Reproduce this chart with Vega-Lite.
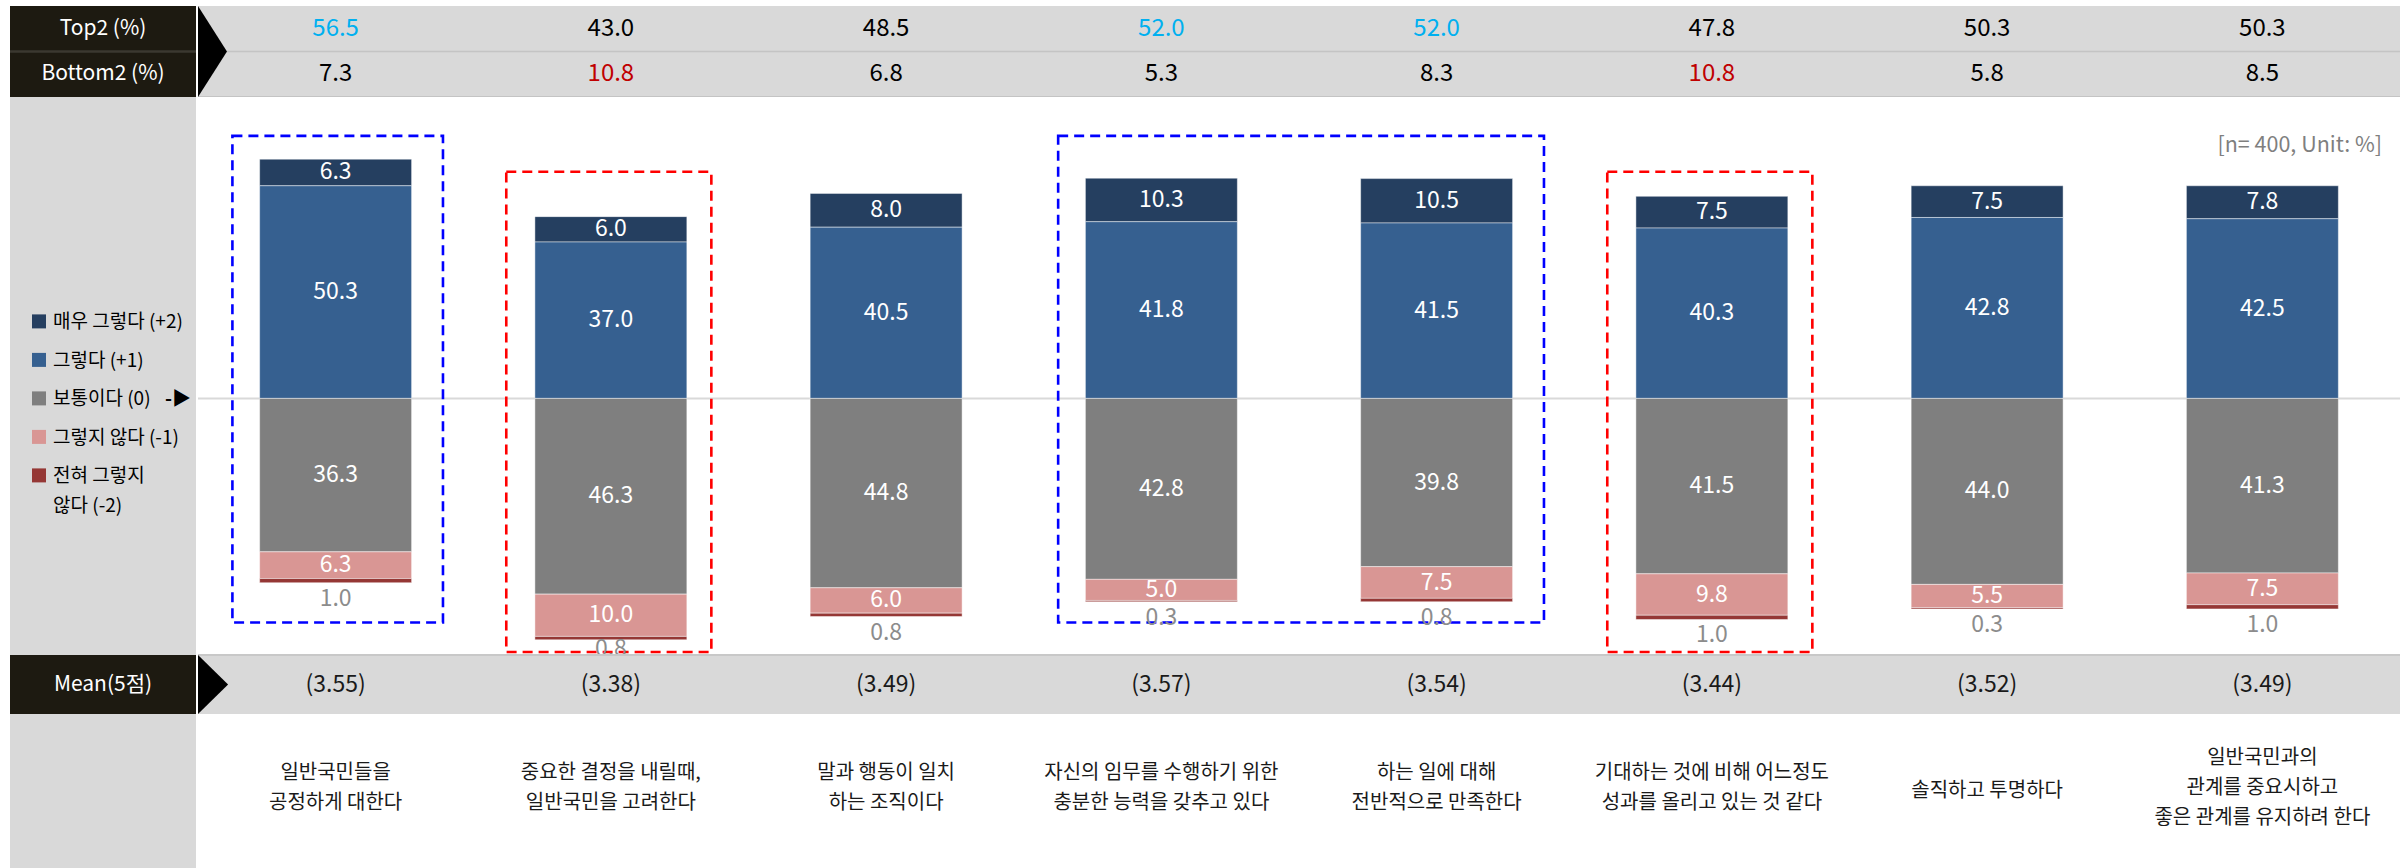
{
  "$schema": "https://vega.github.io/schema/vega-lite/v6.json",
  "background": "white",
  "padding": {"left": 9, "top": 6, "right": 10, "bottom": 0},
  "spacing": 0,
  "config": {"view": {"stroke": null}, "font": "Noto Sans CJK KR", "concat": {"spacing": 0}},
  "datasets": {
    "bars": [
      {"item": "일반국민들을\n공정하게 대한다", "resp": "매우 그렇다 (+2)", "code": 2, "pct": 6.3},
      {"item": "일반국민들을\n공정하게 대한다", "resp": "그렇다 (+1)", "code": 1, "pct": 50.3},
      {"item": "일반국민들을\n공정하게 대한다", "resp": "보통이다 (0)", "code": 0, "pct": 36.3},
      {"item": "일반국민들을\n공정하게 대한다", "resp": "그렇지 않다 (-1)", "code": -1, "pct": 6.3},
      {"item": "일반국민들을\n공정하게 대한다", "resp": "전혀 그렇지 않다 (-2)", "code": -2, "pct": 1.0},
      {"item": "중요한 결정을 내릴때,\n일반국민을 고려한다", "resp": "매우 그렇다 (+2)", "code": 2, "pct": 6.0},
      {"item": "중요한 결정을 내릴때,\n일반국민을 고려한다", "resp": "그렇다 (+1)", "code": 1, "pct": 37.0},
      {"item": "중요한 결정을 내릴때,\n일반국민을 고려한다", "resp": "보통이다 (0)", "code": 0, "pct": 46.3},
      {"item": "중요한 결정을 내릴때,\n일반국민을 고려한다", "resp": "그렇지 않다 (-1)", "code": -1, "pct": 10.0},
      {"item": "중요한 결정을 내릴때,\n일반국민을 고려한다", "resp": "전혀 그렇지 않다 (-2)", "code": -2, "pct": 0.8},
      {"item": "말과 행동이 일치\n하는 조직이다", "resp": "매우 그렇다 (+2)", "code": 2, "pct": 8.0},
      {"item": "말과 행동이 일치\n하는 조직이다", "resp": "그렇다 (+1)", "code": 1, "pct": 40.5},
      {"item": "말과 행동이 일치\n하는 조직이다", "resp": "보통이다 (0)", "code": 0, "pct": 44.8},
      {"item": "말과 행동이 일치\n하는 조직이다", "resp": "그렇지 않다 (-1)", "code": -1, "pct": 6.0},
      {"item": "말과 행동이 일치\n하는 조직이다", "resp": "전혀 그렇지 않다 (-2)", "code": -2, "pct": 0.8},
      {"item": "자신의 임무를 수행하기 위한\n충분한 능력을 갖추고 있다", "resp": "매우 그렇다 (+2)", "code": 2, "pct": 10.3},
      {"item": "자신의 임무를 수행하기 위한\n충분한 능력을 갖추고 있다", "resp": "그렇다 (+1)", "code": 1, "pct": 41.8},
      {"item": "자신의 임무를 수행하기 위한\n충분한 능력을 갖추고 있다", "resp": "보통이다 (0)", "code": 0, "pct": 42.8},
      {"item": "자신의 임무를 수행하기 위한\n충분한 능력을 갖추고 있다", "resp": "그렇지 않다 (-1)", "code": -1, "pct": 5.0},
      {"item": "자신의 임무를 수행하기 위한\n충분한 능력을 갖추고 있다", "resp": "전혀 그렇지 않다 (-2)", "code": -2, "pct": 0.3},
      {"item": "하는 일에 대해\n전반적으로 만족한다", "resp": "매우 그렇다 (+2)", "code": 2, "pct": 10.5},
      {"item": "하는 일에 대해\n전반적으로 만족한다", "resp": "그렇다 (+1)", "code": 1, "pct": 41.5},
      {"item": "하는 일에 대해\n전반적으로 만족한다", "resp": "보통이다 (0)", "code": 0, "pct": 39.8},
      {"item": "하는 일에 대해\n전반적으로 만족한다", "resp": "그렇지 않다 (-1)", "code": -1, "pct": 7.5},
      {"item": "하는 일에 대해\n전반적으로 만족한다", "resp": "전혀 그렇지 않다 (-2)", "code": -2, "pct": 0.8},
      {"item": "기대하는 것에 비해 어느정도\n성과를 올리고 있는 것 같다", "resp": "매우 그렇다 (+2)", "code": 2, "pct": 7.5},
      {"item": "기대하는 것에 비해 어느정도\n성과를 올리고 있는 것 같다", "resp": "그렇다 (+1)", "code": 1, "pct": 40.3},
      {"item": "기대하는 것에 비해 어느정도\n성과를 올리고 있는 것 같다", "resp": "보통이다 (0)", "code": 0, "pct": 41.5},
      {"item": "기대하는 것에 비해 어느정도\n성과를 올리고 있는 것 같다", "resp": "그렇지 않다 (-1)", "code": -1, "pct": 9.8},
      {"item": "기대하는 것에 비해 어느정도\n성과를 올리고 있는 것 같다", "resp": "전혀 그렇지 않다 (-2)", "code": -2, "pct": 1.0},
      {"item": "솔직하고 투명하다", "resp": "매우 그렇다 (+2)", "code": 2, "pct": 7.5},
      {"item": "솔직하고 투명하다", "resp": "그렇다 (+1)", "code": 1, "pct": 42.8},
      {"item": "솔직하고 투명하다", "resp": "보통이다 (0)", "code": 0, "pct": 44.0},
      {"item": "솔직하고 투명하다", "resp": "그렇지 않다 (-1)", "code": -1, "pct": 5.5},
      {"item": "솔직하고 투명하다", "resp": "전혀 그렇지 않다 (-2)", "code": -2, "pct": 0.3},
      {"item": "일반국민과의\n관계를 중요시하고\n좋은 관계를 유지하려 한다", "resp": "매우 그렇다 (+2)", "code": 2, "pct": 7.8},
      {"item": "일반국민과의\n관계를 중요시하고\n좋은 관계를 유지하려 한다", "resp": "그렇다 (+1)", "code": 1, "pct": 42.5},
      {"item": "일반국민과의\n관계를 중요시하고\n좋은 관계를 유지하려 한다", "resp": "보통이다 (0)", "code": 0, "pct": 41.3},
      {"item": "일반국민과의\n관계를 중요시하고\n좋은 관계를 유지하려 한다", "resp": "그렇지 않다 (-1)", "code": -1, "pct": 7.5},
      {"item": "일반국민과의\n관계를 중요시하고\n좋은 관계를 유지하려 한다", "resp": "전혀 그렇지 않다 (-2)", "code": -2, "pct": 1.0}
    ],
    "header": [
      {"item": "일반국민들을\n공정하게 대한다", "row": "Top2 (%)", "value": 56.5},
      {"item": "중요한 결정을 내릴때,\n일반국민을 고려한다", "row": "Top2 (%)", "value": 43.0},
      {"item": "말과 행동이 일치\n하는 조직이다", "row": "Top2 (%)", "value": 48.5},
      {"item": "자신의 임무를 수행하기 위한\n충분한 능력을 갖추고 있다", "row": "Top2 (%)", "value": 52.0},
      {"item": "하는 일에 대해\n전반적으로 만족한다", "row": "Top2 (%)", "value": 52.0},
      {"item": "기대하는 것에 비해 어느정도\n성과를 올리고 있는 것 같다", "row": "Top2 (%)", "value": 47.8},
      {"item": "솔직하고 투명하다", "row": "Top2 (%)", "value": 50.3},
      {"item": "일반국민과의\n관계를 중요시하고\n좋은 관계를 유지하려 한다", "row": "Top2 (%)", "value": 50.3},
      {"item": "일반국민들을\n공정하게 대한다", "row": "Bottom2 (%)", "value": 7.3},
      {"item": "중요한 결정을 내릴때,\n일반국민을 고려한다", "row": "Bottom2 (%)", "value": 10.8},
      {"item": "말과 행동이 일치\n하는 조직이다", "row": "Bottom2 (%)", "value": 6.8},
      {"item": "자신의 임무를 수행하기 위한\n충분한 능력을 갖추고 있다", "row": "Bottom2 (%)", "value": 5.3},
      {"item": "하는 일에 대해\n전반적으로 만족한다", "row": "Bottom2 (%)", "value": 8.3},
      {"item": "기대하는 것에 비해 어느정도\n성과를 올리고 있는 것 같다", "row": "Bottom2 (%)", "value": 10.8},
      {"item": "솔직하고 투명하다", "row": "Bottom2 (%)", "value": 5.8},
      {"item": "일반국민과의\n관계를 중요시하고\n좋은 관계를 유지하려 한다", "row": "Bottom2 (%)", "value": 8.5}
    ],
    "means": [
      {"item": "일반국민들을\n공정하게 대한다", "mean": 3.55},
      {"item": "중요한 결정을 내릴때,\n일반국민을 고려한다", "mean": 3.38},
      {"item": "말과 행동이 일치\n하는 조직이다", "mean": 3.49},
      {"item": "자신의 임무를 수행하기 위한\n충분한 능력을 갖추고 있다", "mean": 3.57},
      {"item": "하는 일에 대해\n전반적으로 만족한다", "mean": 3.54},
      {"item": "기대하는 것에 비해 어느정도\n성과를 올리고 있는 것 같다", "mean": 3.44},
      {"item": "솔직하고 투명하다", "mean": 3.52},
      {"item": "일반국민과의\n관계를 중요시하고\n좋은 관계를 유지하려 한다", "mean": 3.49}
    ],
    "legend": [
      {"resp": "매우 그렇다 (+2)", "code": 2, "label": "매우 그렇다 (+2)"},
      {"resp": "그렇다 (+1)", "code": 1, "label": "그렇다 (+1)"},
      {"resp": "보통이다 (0)", "code": 0, "label": "보통이다 (0)"},
      {"resp": "그렇지 않다 (-1)", "code": -1, "label": "그렇지 않다 (-1)"},
      {"resp": "전혀 그렇지 않다 (-2)", "code": -2, "label": "전혀 그렇지\n않다 (-2)"}
    ],
    "boxes": [
      {"from": "일반국민들을\n공정하게 대한다", "to": "일반국민들을\n공정하게 대한다", "kind": "top"},
      {"from": "자신의 임무를 수행하기 위한\n충분한 능력을 갖추고 있다", "to": "하는 일에 대해\n전반적으로 만족한다", "kind": "top"},
      {"from": "중요한 결정을 내릴때,\n일반국민을 고려한다", "to": "중요한 결정을 내릴때,\n일반국민을 고려한다", "kind": "bottom"},
      {"from": "기대하는 것에 비해 어느정도\n성과를 올리고 있는 것 같다", "to": "기대하는 것에 비해 어느정도\n성과를 올리고 있는 것 같다", "kind": "bottom"}
    ]
  },
  "hconcat": [
    {
      "spacing": 0,
      "bounds": "flush",
      "vconcat": [
        {
          "width": 186, "height": 91,
          "view": {"fill": "#1d1a11", "stroke": null},
          "data": {"values": [{"row": "Top2 (%)"}, {"row": "Bottom2 (%)"}]},
          "layer": [
            {"mark": {"type": "rule", "color": "#3b3830", "strokeWidth": 2},
             "encoding": {"y": {"datum": "Bottom2 (%)", "type": "nominal", "bandPosition": 0, "scale": {"type": "band", "domain": ["Top2 (%)", "Bottom2 (%)"], "paddingInner": 0, "paddingOuter": 0}, "axis": null}}},
            {"mark": {"type": "text", "color": "white", "fontSize": 21, "baseline": "middle"},
             "encoding": {"y": {"field": "row", "type": "nominal", "scale": {"type": "band", "domain": ["Top2 (%)", "Bottom2 (%)"], "paddingInner": 0, "paddingOuter": 0}, "axis": null}, "text": {"field": "row"}}}
          ]
        },
        {
          "width": 186, "height": 558,
          "view": {"fill": "#d9d9d9", "stroke": null},
          "data": {"name": "legend"},
          "layer": [
            {"mark": {"type": "point", "shape": "square", "size": 196, "filled": true, "opacity": 1, "strokeWidth": 0},
             "encoding": {
               "x": {"datum": "swatch", "type": "nominal", "scale": {"type": "point", "domain": ["swatch", "label"], "range": [29, 43], "padding": 0}, "axis": null},
               "y": {"field": "resp", "type": "nominal", "scale": {"type": "point", "domain": ["매우 그렇다 (+2)", "그렇다 (+1)", "보통이다 (0)", "그렇지 않다 (-1)", "전혀 그렇지 않다 (-2)"], "range": [224.4, 378.4], "padding": 0}, "axis": null},
               "color": {"field": "resp", "type": "nominal", "scale": {"domain": ["매우 그렇다 (+2)", "그렇다 (+1)", "보통이다 (0)", "그렇지 않다 (-1)", "전혀 그렇지 않다 (-2)"], "range": ["#253f60", "#366090", "#7f7f7f", "#d99694", "#953735"]}, "legend": null}
             }},
            {"mark": {"type": "text", "align": "left", "baseline": "top", "dy": -8, "fontSize": 19, "lineBreak": "\n", "lineHeight": 30, "color": "#000000"},
             "encoding": {
               "x": {"datum": "label", "type": "nominal", "scale": {"type": "point", "domain": ["swatch", "label"], "range": [29, 43], "padding": 0}, "axis": null},
               "y": {"field": "resp", "type": "nominal", "scale": {"type": "point", "domain": ["매우 그렇다 (+2)", "그렇다 (+1)", "보통이다 (0)", "그렇지 않다 (-1)", "전혀 그렇지 않다 (-2)"], "range": [224.4, 378.4], "padding": 0}, "axis": null},
               "text": {"field": "label"}
             }},
            {"transform": [{"filter": "datum.code === 0"}],
             "mark": {"type": "text", "align": "left", "baseline": "top", "dy": -8, "dx": 112, "fontSize": 19, "fontWeight": "bold", "color": "#000000", "text": "-▶"},
             "encoding": {
               "x": {"datum": "label", "type": "nominal", "scale": {"type": "point", "domain": ["swatch", "label"], "range": [29, 43], "padding": 0}, "axis": null},
               "y": {"field": "resp", "type": "nominal", "scale": {"type": "point", "domain": ["매우 그렇다 (+2)", "그렇다 (+1)", "보통이다 (0)", "그렇지 않다 (-1)", "전혀 그렇지 않다 (-2)"], "range": [224.4, 378.4], "padding": 0}, "axis": null}
             }}
          ]
        },
        {
          "width": 186, "height": 59,
          "view": {"fill": "#1d1a11", "stroke": null},
          "data": {"values": [{"t": "Mean(5점)"}]},
          "mark": {"type": "text", "color": "#ffffff", "fontSize": 21, "baseline": "middle"},
          "encoding": {"text": {"field": "t"}}
        },
        {
          "width": 186, "height": 154,
          "view": {"fill": "#d9d9d9", "stroke": null},
          "data": {"values": [{}]},
          "mark": {"type": "text", "text": ""}
        }
      ]
    },
    {
      "spacing": 0,
      "bounds": "flush",
      "vconcat": [
        {
          "width": 2202, "height": 91,
          "view": {"fill": "#d9d9d9", "stroke": null},
          "layer": [
            {"data": {"values": [{}]},
             "mark": {"type": "rule", "color": "#c4c4c4", "strokeWidth": 1.5},
             "encoding": {"y": {"datum": "Bottom2 (%)", "type": "nominal", "bandPosition": 0, "scale": {"type": "band", "domain": ["Top2 (%)", "Bottom2 (%)"], "paddingInner": 0, "paddingOuter": 0}, "axis": null}}},
            {"data": {"values": [{}]},
             "mark": {"type": "rule", "color": "#c4c4c4", "strokeWidth": 2},
             "encoding": {"y": {"datum": "Bottom2 (%)", "type": "nominal", "bandPosition": 1, "scale": {"type": "band", "domain": ["Top2 (%)", "Bottom2 (%)"], "paddingInner": 0, "paddingOuter": 0}, "axis": null}}},
            {"data": {"name": "header"},
             "mark": {"type": "text", "fontSize": 24, "baseline": "middle"},
             "encoding": {
               "x": {"field": "item", "type": "nominal", "scale": {"type": "band", "domain": ["일반국민들을\n공정하게 대한다", "중요한 결정을 내릴때,\n일반국민을 고려한다", "말과 행동이 일치\n하는 조직이다", "자신의 임무를 수행하기 위한\n충분한 능력을 갖추고 있다", "하는 일에 대해\n전반적으로 만족한다", "기대하는 것에 비해 어느정도\n성과를 올리고 있는 것 같다", "솔직하고 투명하다", "일반국민과의\n관계를 중요시하고\n좋은 관계를 유지하려 한다"], "paddingInner": 0, "paddingOuter": 0}, "axis": null},
               "y": {"field": "row", "type": "nominal", "scale": {"type": "band", "domain": ["Top2 (%)", "Bottom2 (%)"], "paddingInner": 0, "paddingOuter": 0}, "axis": null},
               "text": {"field": "value", "type": "quantitative", "format": ".1f"},
               "color": {"condition": [
                 {"test": "datum.row === 'Top2 (%)' && datum.value >= 52", "value": "#00b0f0"},
                 {"test": "datum.row === 'Bottom2 (%)' && datum.value >= 10.8", "value": "#c00000"}
               ], "value": "#000000"}
             }},
            {"data": {"values": [{}]},
             "mark": {"type": "point", "shape": "M 0 -1 L 0.637 0 L 0 1 Z", "size": 8281, "filled": true, "color": "#000000", "opacity": 1, "strokeWidth": 0},
             "encoding": {"x": {"datum": "일반국민들을\n공정하게 대한다", "type": "nominal", "bandPosition": 0, "scale": {"type": "band", "domain": ["일반국민들을\n공정하게 대한다", "중요한 결정을 내릴때,\n일반국민을 고려한다", "말과 행동이 일치\n하는 조직이다", "자신의 임무를 수행하기 위한\n충분한 능력을 갖추고 있다", "하는 일에 대해\n전반적으로 만족한다", "기대하는 것에 비해 어느정도\n성과를 올리고 있는 것 같다", "솔직하고 투명하다", "일반국민과의\n관계를 중요시하고\n좋은 관계를 유지하려 한다"], "paddingInner": 0, "paddingOuter": 0}, "axis": null}}}
          ]
        },
        {
          "width": 2202, "height": 558,
          "view": {"fill": "white", "stroke": null},
          "resolve": {"scale": {"y": "independent"}},
          "layer": [
            {
              "layer": [
                {"data": {"values": [{}]},
                 "mark": {"type": "rule", "color": "#d9d9d9", "strokeWidth": 2},
                 "encoding": {"y": {"datum": 0, "type": "quantitative", "scale": {"domain": [-60.7, 71.3]}, "axis": null}}},
                {"data": {"name": "bars"},
                 "transform": [{"filter": "datum.code > 0"}],
                 "mark": {"type": "bar", "width": {"band": 0.552}, "stroke": "#ffffff", "strokeWidth": 1, "strokeOpacity": 0.45},
                 "encoding": {
                   "x": {"field": "item", "type": "nominal", "scale": {"type": "band", "domain": ["일반국민들을\n공정하게 대한다", "중요한 결정을 내릴때,\n일반국민을 고려한다", "말과 행동이 일치\n하는 조직이다", "자신의 임무를 수행하기 위한\n충분한 능력을 갖추고 있다", "하는 일에 대해\n전반적으로 만족한다", "기대하는 것에 비해 어느정도\n성과를 올리고 있는 것 같다", "솔직하고 투명하다", "일반국민과의\n관계를 중요시하고\n좋은 관계를 유지하려 한다"], "paddingInner": 0, "paddingOuter": 0}, "axis": null},
                   "y": {"field": "pct", "type": "quantitative", "stack": "zero", "scale": {"domain": [-60.7, 71.3]}, "axis": null},
                   "color": {"field": "resp", "type": "nominal", "scale": {"domain": ["매우 그렇다 (+2)", "그렇다 (+1)", "보통이다 (0)", "그렇지 않다 (-1)", "전혀 그렇지 않다 (-2)"], "range": ["#253f60", "#366090", "#7f7f7f", "#d99694", "#953735"]}, "legend": null},
                   "order": {"field": "code", "type": "quantitative", "sort": "ascending"}
                 }},
                {"data": {"name": "bars"},
                 "transform": [{"filter": "datum.code > 0"}],
                 "mark": {"type": "text", "color": "#ffffff", "fontSize": 23, "baseline": "middle"},
                 "encoding": {
                   "x": {"field": "item", "type": "nominal", "scale": {"type": "band", "domain": ["일반국민들을\n공정하게 대한다", "중요한 결정을 내릴때,\n일반국민을 고려한다", "말과 행동이 일치\n하는 조직이다", "자신의 임무를 수행하기 위한\n충분한 능력을 갖추고 있다", "하는 일에 대해\n전반적으로 만족한다", "기대하는 것에 비해 어느정도\n성과를 올리고 있는 것 같다", "솔직하고 투명하다", "일반국민과의\n관계를 중요시하고\n좋은 관계를 유지하려 한다"], "paddingInner": 0, "paddingOuter": 0}, "axis": null},
                   "y": {"field": "pct", "type": "quantitative", "stack": "zero", "bandPosition": 0.5, "scale": {"domain": [-60.7, 71.3]}, "axis": null},
                   "detail": {"field": "resp"},
                   "order": {"field": "code", "type": "quantitative", "sort": "ascending"},
                   "text": {"field": "pct", "type": "quantitative", "format": ".1f"}
                 }},
                {"data": {"name": "boxes"},
                 "transform": [{"filter": "datum.kind === 'top'"}],
                 "mark": {"type": "rect", "filled": false, "strokeWidth": 2.6, "strokeDash": [10, 6]},
                 "encoding": {
                   "x": {"field": "from", "type": "nominal", "bandPosition": 0.125, "scale": {"type": "band", "domain": ["일반국민들을\n공정하게 대한다", "중요한 결정을 내릴때,\n일반국민을 고려한다", "말과 행동이 일치\n하는 조직이다", "자신의 임무를 수행하기 위한\n충분한 능력을 갖추고 있다", "하는 일에 대해\n전반적으로 만족한다", "기대하는 것에 비해 어느정도\n성과를 올리고 있는 것 같다", "솔직하고 투명하다", "일반국민과의\n관계를 중요시하고\n좋은 관계를 유지하려 한다"], "paddingInner": 0, "paddingOuter": 0}, "axis": null},
                   "x2": {"field": "to", "bandPosition": 0.89},
                   "y": {"datum": 62.1, "type": "quantitative", "scale": {"domain": [-60.7, 71.3]}, "axis": null},
                   "y2": {"datum": -53},
                   "stroke": {"field": "kind", "type": "nominal", "scale": {"domain": ["top", "bottom"], "range": ["#0000ff", "#ff0000"]}, "legend": null}
                 }},
                {"data": {"name": "boxes"},
                 "transform": [{"filter": "datum.kind === 'bottom'"}],
                 "mark": {"type": "rect", "filled": false, "strokeWidth": 2.6, "strokeDash": [10, 6]},
                 "encoding": {
                   "x": {"field": "from", "type": "nominal", "bandPosition": 0.12, "scale": {"type": "band", "domain": ["일반국민들을\n공정하게 대한다", "중요한 결정을 내릴때,\n일반국민을 고려한다", "말과 행동이 일치\n하는 조직이다", "자신의 임무를 수행하기 위한\n충분한 능력을 갖추고 있다", "하는 일에 대해\n전반적으로 만족한다", "기대하는 것에 비해 어느정도\n성과를 올리고 있는 것 같다", "솔직하고 투명하다", "일반국민과의\n관계를 중요시하고\n좋은 관계를 유지하려 한다"], "paddingInner": 0, "paddingOuter": 0}, "axis": null},
                   "x2": {"field": "to", "bandPosition": 0.865},
                   "y": {"datum": 53.6, "type": "quantitative", "scale": {"domain": [-60.7, 71.3]}, "axis": null},
                   "y2": {"datum": -60},
                   "stroke": {"field": "kind", "type": "nominal", "scale": {"domain": ["top", "bottom"], "range": ["#0000ff", "#ff0000"]}, "legend": null}
                 }},
                {"data": {"values": [{"note": "[n= 400, Unit: %]"}]},
                 "mark": {"type": "text", "align": "right", "baseline": "middle", "fontSize": 21.5, "color": "#7f7f7f", "dx": -18},
                 "encoding": {
                   "x": {"datum": "일반국민과의\n관계를 중요시하고\n좋은 관계를 유지하려 한다", "type": "nominal", "bandPosition": 1, "scale": {"type": "band", "domain": ["일반국민들을\n공정하게 대한다", "중요한 결정을 내릴때,\n일반국민을 고려한다", "말과 행동이 일치\n하는 조직이다", "자신의 임무를 수행하기 위한\n충분한 능력을 갖추고 있다", "하는 일에 대해\n전반적으로 만족한다", "기대하는 것에 비해 어느정도\n성과를 올리고 있는 것 같다", "솔직하고 투명하다", "일반국민과의\n관계를 중요시하고\n좋은 관계를 유지하려 한다"], "paddingInner": 0, "paddingOuter": 0}, "axis": null},
                   "y": {"datum": 59.7, "type": "quantitative", "scale": {"domain": [-60.7, 71.3]}, "axis": null},
                   "text": {"field": "note"}
                 }}
              ]
            },
            {
              "layer": [
                {"data": {"name": "bars"},
                 "transform": [{"filter": "datum.code <= 0"}],
                 "mark": {"type": "bar", "width": {"band": 0.552}, "stroke": "#ffffff", "strokeWidth": 1, "strokeOpacity": 0.45},
                 "encoding": {
                   "x": {"field": "item", "type": "nominal", "scale": {"type": "band", "domain": ["일반국민들을\n공정하게 대한다", "중요한 결정을 내릴때,\n일반국민을 고려한다", "말과 행동이 일치\n하는 조직이다", "자신의 임무를 수행하기 위한\n충분한 능력을 갖추고 있다", "하는 일에 대해\n전반적으로 만족한다", "기대하는 것에 비해 어느정도\n성과를 올리고 있는 것 같다", "솔직하고 투명하다", "일반국민과의\n관계를 중요시하고\n좋은 관계를 유지하려 한다"], "paddingInner": 0, "paddingOuter": 0}, "axis": null},
                   "y": {"field": "pct", "type": "quantitative", "stack": "zero", "scale": {"domain": [-71.3, 60.7], "reverse": true}, "axis": null},
                   "color": {"field": "resp", "type": "nominal", "scale": {"domain": ["매우 그렇다 (+2)", "그렇다 (+1)", "보통이다 (0)", "그렇지 않다 (-1)", "전혀 그렇지 않다 (-2)"], "range": ["#253f60", "#366090", "#7f7f7f", "#d99694", "#953735"]}, "legend": null},
                   "order": {"field": "code", "type": "quantitative", "sort": "descending"}
                 }},
                {"data": {"name": "bars"},
                 "transform": [{"filter": "datum.code <= 0 && datum.code >= -1"}],
                 "mark": {"type": "text", "color": "#ffffff", "fontSize": 23, "baseline": "middle"},
                 "encoding": {
                   "x": {"field": "item", "type": "nominal", "scale": {"type": "band", "domain": ["일반국민들을\n공정하게 대한다", "중요한 결정을 내릴때,\n일반국민을 고려한다", "말과 행동이 일치\n하는 조직이다", "자신의 임무를 수행하기 위한\n충분한 능력을 갖추고 있다", "하는 일에 대해\n전반적으로 만족한다", "기대하는 것에 비해 어느정도\n성과를 올리고 있는 것 같다", "솔직하고 투명하다", "일반국민과의\n관계를 중요시하고\n좋은 관계를 유지하려 한다"], "paddingInner": 0, "paddingOuter": 0}, "axis": null},
                   "y": {"field": "pct", "type": "quantitative", "stack": "zero", "bandPosition": 0.5, "scale": {"domain": [-71.3, 60.7], "reverse": true}, "axis": null},
                   "detail": {"field": "resp"},
                   "order": {"field": "code", "type": "quantitative", "sort": "descending"},
                   "text": {"field": "pct", "type": "quantitative", "format": ".1f"}
                 }}
              ]
            },
            {"data": {"name": "bars"},
             "transform": [{"filter": "datum.code <= 0"}],
             "mark": {"type": "text", "color": "#8c8c8c", "fontSize": 23, "baseline": "middle", "dy": 16},
             "encoding": {
               "x": {"field": "item", "type": "nominal", "scale": {"type": "band", "domain": ["일반국민들을\n공정하게 대한다", "중요한 결정을 내릴때,\n일반국민을 고려한다", "말과 행동이 일치\n하는 조직이다", "자신의 임무를 수행하기 위한\n충분한 능력을 갖추고 있다", "하는 일에 대해\n전반적으로 만족한다", "기대하는 것에 비해 어느정도\n성과를 올리고 있는 것 같다", "솔직하고 투명하다", "일반국민과의\n관계를 중요시하고\n좋은 관계를 유지하려 한다"], "paddingInner": 0, "paddingOuter": 0}, "axis": null},
               "y": {"field": "pct", "type": "quantitative", "stack": "zero", "scale": {"domain": [-71.3, 55.5], "range": [0, 536], "clamp": true}, "axis": null},
               "detail": {"field": "resp"},
               "order": {"field": "code", "type": "quantitative", "sort": "descending"},
               "text": {"condition": {"test": "datum.code === -2", "field": "pct", "type": "quantitative", "format": ".1f"}, "value": ""}
             }}
          ]
        },
        {
          "width": 2202, "height": 59,
          "view": {"fill": "#d9d9d9", "stroke": null},
          "layer": [
            {"data": {"values": [{}]},
             "mark": {"type": "rule", "color": "#c8c8c8", "strokeWidth": 2},
             "encoding": {"y": {"datum": 0, "type": "quantitative", "scale": {"domain": [0, 1], "reverse": true}, "axis": null}}},
            {"data": {"name": "means"},
             "mark": {"type": "text", "fontSize": 23, "baseline": "middle", "color": "#1a1a1a"},
             "encoding": {
               "x": {"field": "item", "type": "nominal", "scale": {"type": "band", "domain": ["일반국민들을\n공정하게 대한다", "중요한 결정을 내릴때,\n일반국민을 고려한다", "말과 행동이 일치\n하는 조직이다", "자신의 임무를 수행하기 위한\n충분한 능력을 갖추고 있다", "하는 일에 대해\n전반적으로 만족한다", "기대하는 것에 비해 어느정도\n성과를 올리고 있는 것 같다", "솔직하고 투명하다", "일반국민과의\n관계를 중요시하고\n좋은 관계를 유지하려 한다"], "paddingInner": 0, "paddingOuter": 0}, "axis": null},
               "text": {"value": {"expr": "'(' + format(datum.mean, '.2f') + ')'"}}
             }},
            {"data": {"values": [{}]},
             "mark": {"type": "point", "shape": "M 0 -1 L 1.02 0 L 0 1 Z", "size": 3481, "filled": true, "color": "#000000", "opacity": 1, "strokeWidth": 0},
             "encoding": {"x": {"datum": "일반국민들을\n공정하게 대한다", "type": "nominal", "bandPosition": 0, "scale": {"type": "band", "domain": ["일반국민들을\n공정하게 대한다", "중요한 결정을 내릴때,\n일반국민을 고려한다", "말과 행동이 일치\n하는 조직이다", "자신의 임무를 수행하기 위한\n충분한 능력을 갖추고 있다", "하는 일에 대해\n전반적으로 만족한다", "기대하는 것에 비해 어느정도\n성과를 올리고 있는 것 같다", "솔직하고 투명하다", "일반국민과의\n관계를 중요시하고\n좋은 관계를 유지하려 한다"], "paddingInner": 0, "paddingOuter": 0}, "axis": null}}}
          ]
        },
        {
          "width": 2202, "height": 154,
          "view": {"fill": "#ffffff", "stroke": null},
          "data": {"name": "means"},
          "layer": [
            {"transform": [{"filter": "length(split(datum.item, '\\n')) === 1"}],
             "mark": {"type": "text", "fontSize": 20, "lineBreak": "\n", "lineHeight": 30, "baseline": "middle", "dy": 0, "color": "#1a1a1a"},
             "encoding": {
               "x": {"field": "item", "type": "nominal", "scale": {"type": "band", "domain": ["일반국민들을\n공정하게 대한다", "중요한 결정을 내릴때,\n일반국민을 고려한다", "말과 행동이 일치\n하는 조직이다", "자신의 임무를 수행하기 위한\n충분한 능력을 갖추고 있다", "하는 일에 대해\n전반적으로 만족한다", "기대하는 것에 비해 어느정도\n성과를 올리고 있는 것 같다", "솔직하고 투명하다", "일반국민과의\n관계를 중요시하고\n좋은 관계를 유지하려 한다"], "paddingInner": 0, "paddingOuter": 0}, "axis": null},
               "text": {"field": "item"}
             }},
            {"transform": [{"filter": "length(split(datum.item, '\\n')) === 2"}],
             "mark": {"type": "text", "fontSize": 20, "lineBreak": "\n", "lineHeight": 30, "baseline": "middle", "dy": -18, "color": "#1a1a1a"},
             "encoding": {
               "x": {"field": "item", "type": "nominal", "scale": {"type": "band", "domain": ["일반국민들을\n공정하게 대한다", "중요한 결정을 내릴때,\n일반국민을 고려한다", "말과 행동이 일치\n하는 조직이다", "자신의 임무를 수행하기 위한\n충분한 능력을 갖추고 있다", "하는 일에 대해\n전반적으로 만족한다", "기대하는 것에 비해 어느정도\n성과를 올리고 있는 것 같다", "솔직하고 투명하다", "일반국민과의\n관계를 중요시하고\n좋은 관계를 유지하려 한다"], "paddingInner": 0, "paddingOuter": 0}, "axis": null},
               "text": {"field": "item"}
             }},
            {"transform": [{"filter": "length(split(datum.item, '\\n')) === 3"}],
             "mark": {"type": "text", "fontSize": 20, "lineBreak": "\n", "lineHeight": 30, "baseline": "middle", "dy": -33, "color": "#1a1a1a"},
             "encoding": {
               "x": {"field": "item", "type": "nominal", "scale": {"type": "band", "domain": ["일반국민들을\n공정하게 대한다", "중요한 결정을 내릴때,\n일반국민을 고려한다", "말과 행동이 일치\n하는 조직이다", "자신의 임무를 수행하기 위한\n충분한 능력을 갖추고 있다", "하는 일에 대해\n전반적으로 만족한다", "기대하는 것에 비해 어느정도\n성과를 올리고 있는 것 같다", "솔직하고 투명하다", "일반국민과의\n관계를 중요시하고\n좋은 관계를 유지하려 한다"], "paddingInner": 0, "paddingOuter": 0}, "axis": null},
               "text": {"field": "item"}
             }}
          ]
        }
      ]
    }
  ]
}
